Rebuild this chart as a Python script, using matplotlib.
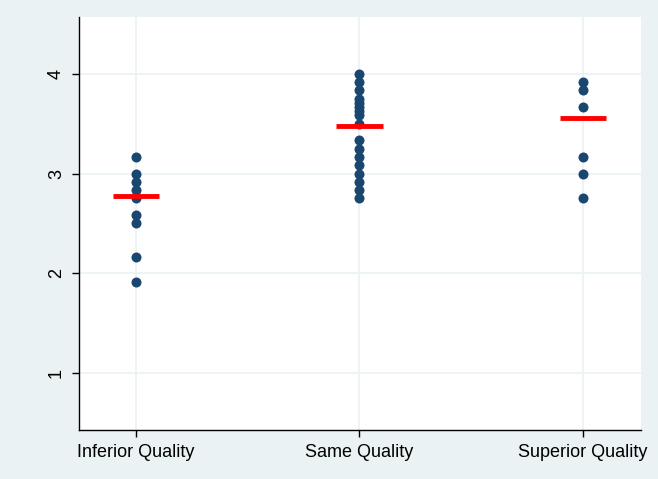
import matplotlib
matplotlib.use("Agg")
import matplotlib.pyplot as plt

categories = ["Inferior Quality", "Same Quality", "Superior Quality"]
inferior = [3.167, 3.0, 2.917, 2.833, 2.75, 2.583, 2.5, 2.167, 1.917]
same = [4.0, 3.917, 3.833, 3.75, 3.708, 3.667, 3.625, 3.583, 3.5,
        3.333, 3.25, 3.167, 3.083, 3.0, 2.917, 2.833, 2.75]
superior = [3.917, 3.833, 3.667, 3.167, 3.0, 2.75]
means = [2.77, 3.48, 3.56]
yticks = [1, 2, 3, 4]

bg = "#EAF2F3"
dot = "#1A476F"

plt.rcParams["font.family"] = ["Liberation Sans", "DejaVu Sans"]
fig = plt.figure(figsize=(6.58, 4.79), dpi=100)
fig.patch.set_facecolor(bg)
ax = fig.add_axes([0.120, 0.102, 0.854, 0.863])
ax.set_facecolor("white")

groups = [inferior, same, superior]
for i, vals in enumerate(groups, start=1):
    ax.scatter([i] * len(vals), vals, s=52, color=dot, zorder=3, linewidths=0)
    ax.hlines(means[i - 1], i - 0.104, i + 0.104, color="#FF0000", lw=3.5, zorder=4)

ax.set_xlim(0.745, 3.26)
ax.set_ylim(0.43, 4.57)
ax.set_xticks([1, 2, 3])
ax.set_xticklabels(categories, fontsize=13)
ax.set_yticks(yticks)
ax.set_yticklabels([str(t) for t in yticks], fontsize=13, rotation=90, va="center")
ax.grid(True, color=bg, lw=1.2, zorder=0)
ax.set_axisbelow(True)
for s in ["top", "right"]:
    ax.spines[s].set_visible(False)
for s in ["left", "bottom"]:
    ax.spines[s].set_color("black")
    ax.spines[s].set_linewidth(1.0)
ax.tick_params(axis="both", length=5, width=1, color="black", pad=5)

fig.savefig("out.png", dpi=100, facecolor=bg)
